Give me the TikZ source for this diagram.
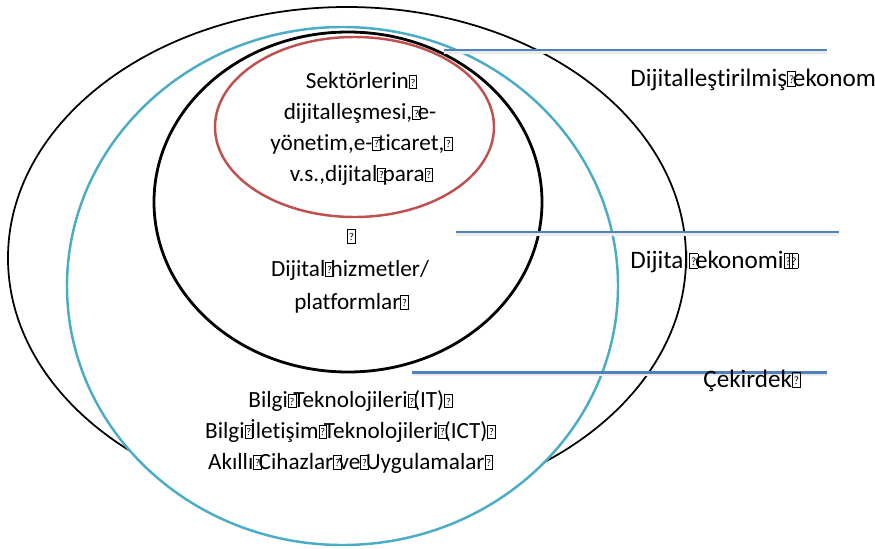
\documentclass[tikz,border=0pt]{standalone}
\usepackage{fontspec}
\setmainfont{Carlito}[Ligatures={NoCommon}]
\usetikzlibrary{positioning}
\definecolor{lineblue}{HTML}{4F81BD}
\definecolor{ringred}{HTML}{C0504D}
\definecolor{ringcyan}{HTML}{4BACC6}
% missing-glyph box as the picture prints it
\newcommand{\qb}{\makebox[0.23em][l]{\setlength{\fboxsep}{0pt}\setlength{\fboxrule}{0.4pt}\fbox{\makebox[0.3em]{\rule{0pt}{0.56em}\raisebox{0.1em}{\scalebox{0.45}{?}}}}}}

\begin{document}
\begin{tikzpicture}[
    x=0.02cm, y=-0.02cm,
    ring/.style={line width=1.2pt},
    level line/.style={draw=lineblue, line width=1.7pt,
        preaction={draw=black!8, line width=2pt, transform canvas={yshift=-1pt}}},
    every node/.style={inner sep=0pt, font=\fontsize{13.2}{17.6}\selectfont},
    block/.style={align=center, anchor=north},
    side label/.style={anchor=base west, font=\fontsize{14.3}{17}\selectfont}
]
\useasboundingbox (0,0) rectangle (875,548);

% rings
\draw[ring, line width=1pt] (347,258) ellipse [x radius=339, y radius=251];
\draw[ring, draw=ringcyan, fill=white, line width=1.4pt] (342.5,286) ellipse [x radius=275.5, y radius=259];
\draw[ring, line width=1.6pt] (348,202) ellipse [x radius=194, y radius=170];
\draw[ring, draw=ringred, line width=1.4pt] (354.5,127) ellipse [x radius=139.5, y radius=90];

% level lines
\coordinate (top west) at (444,50);
\coordinate (top east) at (827,50);
\coordinate (mid west) at (456,232);
\coordinate (mid east) at (839,232);
\coordinate (low west) at (412,372);
\coordinate (low east) at (827,372);
\draw[level line] (top west) -- (top east);
\draw[level line] (mid west) -- (mid east);
\draw[level line] (low west) -- (low east);

% texts
\node (sectors) [block] at (360,72)
    {Sektörlerin\qb\\dijitalleşmesi,\qb e-\\yönetim,e-\qb ticaret,\qb\\v.s.,dijital\qb para\qb};
\node (services) [block, font=\fontsize{13.2}{18.8}\selectfont] at (350,229)
    {\qb\\Dijital\qb hizmetler/\\platformlar\qb};
\node (core) [block] at (349,390)
    {Bilgi\qb Teknolojileri\qb (IT)\qb\\Bilgi\qb İletişim\qb Teknolojileri\qb (ICT)\qb\\Akıllı\qb Cihazlar\qb ve\qb Uygulamalar\qb};

\node (digitised label) [side label] at (630,86) {Dijitalleştirilmiş\qb ekonom};
\node (digital label) [side label] at (630,268) {Dijital\qb ekonomi\qb\qb};
\node (core label) [side label] at (703,387) {Çekirdek\qb};
\end{tikzpicture}
\end{document}
